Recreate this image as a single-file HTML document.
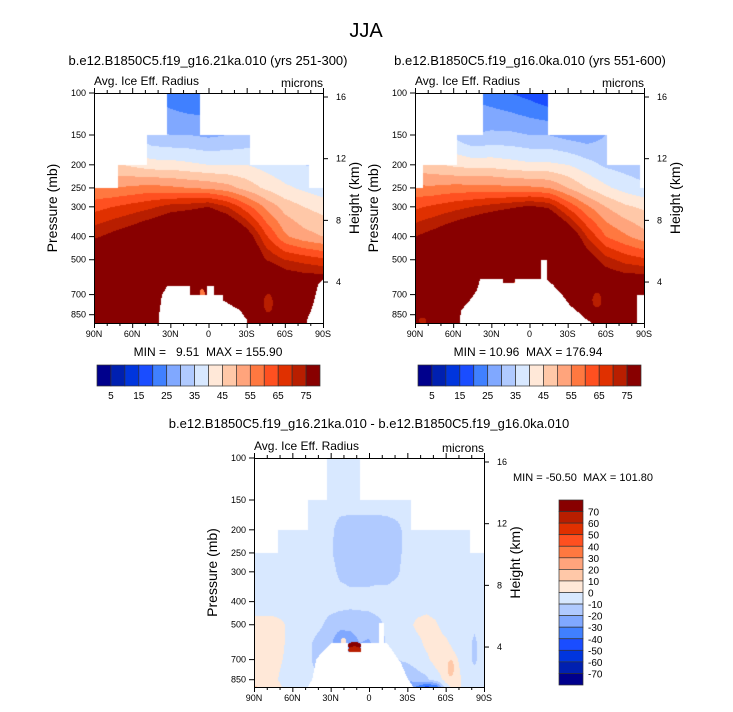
<!DOCTYPE html>
<html><head><meta charset="utf-8"><style>
html,body{margin:0;padding:0;background:#fff;}
#root{position:relative;width:733px;height:712px;overflow:hidden;font-family:"Liberation Sans",sans-serif;}
canvas{position:absolute;}
svg{position:absolute;left:0;top:0;}
text{white-space:pre;}
</style></head><body>
<div id="root">
<canvas id="c1" width="229" height="230" style="left:94px;top:93px"></canvas>
<canvas id="c2" width="229" height="230" style="left:415px;top:93px"></canvas>
<canvas id="c3" width="230" height="229" style="left:254px;top:458px"></canvas>
<svg id="ov" width="733" height="712"></svg>
</div>
<script>
const LATS=[90,75,60,45,30,15,0,-15,-30,-45,-60,-75,-90];
const LATSD=[90,82.5,75,67.5,60,52.5,45,37.5,30,22.5,15,7.5,0,-7.5,-15,-22.5,-30,-37.5,-45,-52.5,-60,-67.5,-75,-82.5,-90];
const PRES=[100,150,200,250,300,400,500,600,700,850,925];
const gridA=[
[30,30,28,25,22,20,20,22,25,28,30,30,30],
[38,38,36,31,30,30,29,30,31,33,34,34,34],
[47,46,44,42,42,41,40,40,40,38,36,35,34],
[55,55,56,57,56,55,54,52,48,44,41,39,37],
[63,65,67,69,72,73,75,70,62,54,48,45,43],
[74,77,80,84,88,92,95,90,80,66,56,52,50],
[85,88,92,95,100,100,100,96,88,75,70,68,66],
[92,95,100,100,100,100,100,100,95,86,80,78,78],
[96,100,100,100,100,100,100,100,100,92,86,86,86],
[100,100,100,100,100,100,100,100,100,95,100,100,100],
[100,100,100,100,100,100,100,100,100,100,100,100,100]];
const gridB=[
[28,28,26,24,22,20,18,15,18,22,28,30,30],
[38,38,34,30,31,31,30,30,28,27,30,32,33],
[47,46,44,43,43,42,41,41,40,37,34,33,32],
[56,56,57,57,57,56,56,55,50,45,41,38,36],
[64,66,68,70,72,74,76,74,64,56,50,46,44],
[75,78,82,86,90,93,96,95,84,70,60,56,52],
[86,90,95,100,100,100,100,100,92,80,72,68,66],
[92,95,100,100,100,100,100,100,95,86,80,78,78],
[96,100,100,100,100,100,100,100,100,92,86,86,86],
[100,100,100,100,100,100,100,100,100,95,100,100,100],
[100,100,100,100,100,100,100,100,100,100,100,100,100]];
const gridD=[
[-5,-5,-5,-5,-5,-5,-5,-5,-5,-5,-5,-5,-5,-5,-5,-5,-5,-5,-5,-5,-5,-5,-5,-5,-5],
[-5,-5,-5,-5,-5,-5,-5,-5,-5,-5,-5,-5,-5,-5,-5,-5,-5,-5,-5,-5,-5,-5,-5,-5,-5],
[-5,-5,-5,-5,-5,-5,-5,-6,-8,-14,-15,-15,-15,-15,-14,-12,-7,-5,-5,-5,-5,-5,-5,-5,-5],
[-5,-5,-5,-5,-5,-5,-5,-6,-9,-14,-15,-15,-15,-15,-14,-12,-7,-5,-5,-5,-5,-5,-5,-5,-5],
[-5,-5,-5,-5,-5,-5,-5,-5,-7,-12,-13,-13,-13,-13,-13,-11,-6,-5,-5,-5,-5,-5,-5,-5,-5],
[-5,-5,-5,-5,-5,-5,-5,-5,-5,-6,-7,-7,-7,-6,-6,-5,-5,-5,-5,-5,-5,-5,-5,-5,-5],
[3,3,3,1,-4,-5,-6,-9,-14,-16,-16,-15,-14,-12,-8,-5,-3,2,4,1,-4,-5,-5,-8,-5],
[3,3,3,1,-4,-5,-10,-14,-18,-30,-28,-20,-22,-14,-8,-5,-4,-3,2,4,2,-3,-5,-12,-5],
[3,4,3,0,-4,-5,-10,-16,-20,-30,-30,-30,-30,-20,-12,-10,-8,-5,-2,4,6,2,-5,-12,-5],
[6,4,2,-2,-4,-5,-6,-12,-20,-20,-20,-20,-20,-15,-15,-18,-20,-15,-12,-5,3,5,-3,-5,-5],
[12,10,5,0,-3,-5,-6,-8,-20,-20,-20,-20,-20,-15,-15,-20,-25,-35,-50,-45,-5,3,-2,-5,-5]];
const levelsTop=[5,10,15,20,25,30,35,40,45,50,55,60,65,70,75];
const levelsDiff=[-70,-60,-50,-40,-30,-20,-10,0,10,20,30,40,50,60,70];
const COLORS=["#00008c","#0020b0","#0035dd","#1a4dff","#4080ff","#80a8ff","#b0caff","#d8e8ff","#ffe8d8","#ffc8a8","#ffa47c","#ff7840","#ff5020","#e03000","#b81e00","#880000"];
const topA_from=[90,71,48,32.6,6.7,-32.6,-79], topA_to=[71,48,32.6,6.7,-32.6,-79,-90], topA_p=[250,200,150,100,150,200,250];
const topB_from=[90,84,57,36.5,-14.6,-61,-87], topB_to=[84,57,36.5,-14.6,-61,-87,-90], topB_p=[250,200,150,100,150,200,250];
const mtA1_lat=[38.9,38.9,36.6,32.6,14.5,14.5,1.2,1.2,-4.3,-4.3,-11.4,-11.4,-24.7,-30.2,-30.2];
const mtA1_p=[950,852,700,647,647,700,700,647,647,700,700,739,814,894,950];
const mtA2_lat=[-77.4,-77.4,-82.1,-86,-90,-91,-91];
const mtA2_p=[950,894,776,638,608,608,950];
const mtB1_lat=[55.4,53.8,46.8,41.3,38.9,20.8,20.8,11.4,11.4,-9,-9,-13.8,-13.8,-18.5,-24,-27.9,-31.8,-38.1,-43.6,-49.1,-49.1];
const mtB1_p=[950,814,739,671,603,603,626,626,603,603,500,500,603,638,683,726,776,828,879,921,950];
const mtB2_lat=[-84.5,-91,-91,-84.5];
const mtB2_p=[700,700,950,950];
const mtD_lat=[48.5,48.5,44.6,41.5,37.5,29.7,16.4,16.4,6.2,6.2,-8,-8,-11.8,-11.8,-14.1,-19.6,-25.1,-29.8,-35.3,-35.3];
const mtD_p=[950,921,852,703,657,596,596,650,650,596,596,492,492,596,596,657,724,831,921,950];
const blobA_lat=[5,-47], blobA_p=[690,760], blobA_rl=[2,3.5], blobA_rp=[0.04,0.09], blobA_v=[55,72];
const blobB_lat=[11.4,-53,84], blobB_p=[640,739,900], blobB_rl=[2.5,3.5,3], blobB_rp=[0.03,0.07,0.03], blobB_v=[58,72,72];
const blobD_lat=[11.3,11.3,-64,20], blobD_p=[612,638,760,585], blobD_rl=[5.2,5.2,2.5,2], blobD_rp=[0.035,0.035,0.08,0.03], blobD_v=[75,60,12,5];

function hex(c){return [parseInt(c.substr(1,2),16),parseInt(c.substr(3,2),16),parseInt(c.substr(5,2),16)];}
const RGB=COLORS.map(hex);
function inPoly(x,y,xs,ys){let c=false;for(let i=0,j=xs.length-1;i<xs.length;j=i++){if(((ys[i]>y)!=(ys[j]>y))&&(x<(xs[j]-xs[i])*(y-ys[i])/(ys[j]-ys[i])+xs[i]))c=!c;}return c;}
function interp(grid,lats,lat,p){
  const n=lats.length, step=180/(n-1);
  let fi=(90-lat)/step; fi=Math.max(0,Math.min(n-1,fi)); const i0=Math.min(n-2,Math.floor(fi)), ti=fi-i0;
  const lp=Math.log(p); let j0=0;
  while(j0<PRES.length-2 && lp>Math.log(PRES[j0+1])) j0++;
  let tj=(lp-Math.log(PRES[j0]))/(Math.log(PRES[j0+1])-Math.log(PRES[j0])); tj=Math.max(0,Math.min(1,tj));
  const a=grid[j0][i0]*(1-ti)+grid[j0][i0+1]*ti, b=grid[j0+1][i0]*(1-ti)+grid[j0+1][i0+1]*ti;
  return a*(1-tj)+b*tj;
}
function render(id,grid,lats,levels,tf,tt,tp,polys,bl){
  const cv=document.getElementById(id), ctx=cv.getContext('2d'), W=cv.width,H=cv.height;
  const img=ctx.createImageData(W,H);
  for(let y=0;y<H;y++){const p=100*Math.exp((y+0.5)/103.6);
    for(let x=0;x<W;x++){const lat=90-(x+0.5)/W*180; const k=(y*W+x)*4; let white=false;
      for(let s=0;s<tf.length;s++){if(lat<=tf[s]&&lat>=tt[s]){if(p<tp[s])white=true;break;}}
      if(!white)for(const pl of polys){if(inPoly(lat,p,pl[0],pl[1])){white=true;break;}}
      if(white){img.data[k]=img.data[k+1]=img.data[k+2]=img.data[k+3]=255;continue;}
      let v=interp(grid,lats,lat,p);
      for(let b=0;b<bl[0].length;b++){const dl=(lat-bl[0][b])/bl[2][b], dp=(Math.log(p)-Math.log(bl[1][b]))/bl[3][b]; if(dl*dl+dp*dp<1)v=bl[4][b];}
      let c=0; while(c<levels.length&&v>=levels[c])c++;
      const col=RGB[c]; img.data[k]=col[0];img.data[k+1]=col[1];img.data[k+2]=col[2];img.data[k+3]=255;}}
  ctx.putImageData(img,0,0);
}
render('c1',gridA,LATS,levelsTop,topA_from,topA_to,topA_p,[[mtA1_lat,mtA1_p],[mtA2_lat,mtA2_p]],[blobA_lat,blobA_p,blobA_rl,blobA_rp,blobA_v]);
render('c2',gridB,LATS,levelsTop,topB_from,topB_to,topB_p,[[mtB1_lat,mtB1_p],[mtB2_lat,mtB2_p]],[blobB_lat,blobB_p,blobB_rl,blobB_rp,blobB_v]);
render('c3',gridD,LATSD,levelsDiff,topA_from,topA_to,topA_p,[[mtD_lat,mtD_p]],[blobD_lat,blobD_p,blobD_rl,blobD_rp,blobD_v]);

const NS='http://www.w3.org/2000/svg', ov=document.getElementById('ov');
function el(tag,attrs,parent){const e=document.createElementNS(NS,tag);for(const k in attrs)e.setAttribute(k,attrs[k]);(parent||ov).appendChild(e);return e;}
function txt(s,x,y,size,anchor,name,extra){const t=el('text',Object.assign({x:x,y:y,'font-size':size,'text-anchor':anchor||'start',fill:'#000'},extra||{}));t.textContent=s;


return t;}
const PTICKS=[100,150,200,250,300,400,500,700,850];
const HTICKS=[4,8,12,16];
const XLAB=['90N','60N','30N','0','30S','60S','90S'];
function panel(x0,y0,w,h,prefix){
  const g=el('g',{});
  
  
  el('rect',{x:x0+0.5,y:y0+0.5,width:w,height:h,fill:'none',stroke:'#000','stroke-width':1},g);
  PTICKS.forEach(p=>{const y=y0+103.6*Math.log(p/100);
    el('line',{x1:x0-5,x2:x0,y1:y,y2:y,stroke:'#000'},g);
    txt(String(p),x0-8,y+3,9,'end',prefix+'-pressure-tick-label');});
  HTICKS.forEach(hk=>{const y=y0+4+(16-hk)*15.42;
    el('line',{x1:x0+w,x2:x0+w+5,y1:y,y2:y,stroke:'#000'},g);
    txt(String(hk),x0+w+13,y+3,9,'start',prefix+'-height-tick-label');});
  for(let d=0;d<=18;d++){const x=x0+0.5+d*w/18, L=d%3==0?5:3;
    el('line',{x1:x,x2:x,y1:y0+h,y2:y0+h+L,stroke:'#000'},g);
    el('line',{x1:x,x2:x,y1:y0,y2:y0-L,stroke:'#000'},g);}
  XLAB.forEach((s,i)=>txt(s,x0+i*w/6,y0+h+14,9,'middle',prefix+'-lat-tick-label'));
  txt('Avg. Ice Eff. Radius',x0,y0-8,12,'start',prefix+'-variable-label');
  txt('microns',x0+w,y0-6,12,'end',prefix+'-units-label');
  txt('Pressure (mb)',0,0,14,'middle',prefix+'-y-axis-title',{transform:`translate(${x0-37},${y0+h/2}) rotate(-90)`});
  txt('Height (km)',0,0,14,'middle',prefix+'-right-axis-title',{transform:`translate(${x0+w+36},${y0+h/2-10}) rotate(-90)`});
}
txt('JJA',366,37,20,'middle','figure-title');
txt('b.e12.B1850C5.f19_g16.21ka.010 (yrs 251-300)',208,65,13,'middle','left-panel-title');
txt('b.e12.B1850C5.f19_g16.0ka.010 (yrs 551-600)',530,65,13,'middle','right-panel-title');
txt('b.e12.B1850C5.f19_g16.21ka.010 - b.e12.B1850C5.f19_g16.0ka.010',369,428,13,'middle','diff-panel-title');
panel(94,93,229,230,'left');
panel(415,93,229,230,'right');
panel(254,458,230,229,'diff');
txt('MIN =   9.51  MAX = 155.90',208,356,12,'middle','left-min-max');
txt('MIN = 10.96  MAX = 176.94',528,356,12,'middle','right-min-max');
txt('MIN = -50.50  MAX = 101.80',513,481,11,'start','diff-min-max');
function hbar(x0,prefix){const bw=223/16;
  COLORS.forEach((c,i)=>{const r=el('rect',{x:x0+i*bw,y:365,width:bw,height:21,fill:c,stroke:'#333','stroke-width':0.7});
    
    });
  levelsTop.forEach((v,i)=>{if(i%2==0)txt(String(v),x0+(i+1)*bw,399,10,'middle',prefix+'-colorbar-label');});}
hbar(97,'left');hbar(418,'right');
const vb=185/16;
COLORS.slice().reverse().forEach((c,i)=>{const r=el('rect',{x:559,y:500+i*vb,width:24,height:vb,fill:c,stroke:'#333','stroke-width':0.7});
  
  });
levelsDiff.slice().reverse().forEach((v,i)=>txt(String(v),588,500+(i+1)*vb+4,10,'start','diff-colorbar-label'));
</script>
</body></html>
